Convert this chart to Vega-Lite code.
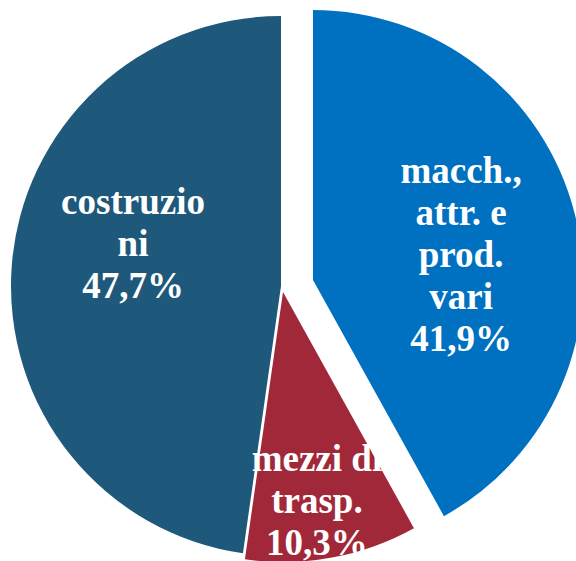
{
  "$schema": "https://vega.github.io/schema/vega-lite/v6.json",
  "width": 576,
  "height": 561,
  "padding": 0,
  "autosize": {"type": "none"},
  "config": {
    "view": {
      "stroke": null,
      "fill": {
        "gradient": "linear",
        "x1": 0, "y1": 0, "x2": 1, "y2": 1,
        "stops": [
          {"offset": 0, "color": "#C6C6C6"},
          {"offset": 0.5, "color": "#DADADA"},
          {"offset": 1, "color": "#E6E6E6"}
        ]
      }
    }
  },
  "data": {
    "values": [
      {"cat": "macch., attr. e prod. vari", "label": "macch.,\nattr. e\nprod.\nvari\n41,9%", "value": 41.9, "order": 1},
      {"cat": "mezzi di trasp.", "label": "mezzi di\ntrasp.\n10,3%", "value": 10.3, "order": 2},
      {"cat": "costruzioni", "label": "costruzio\nni\n47,7%", "value": 47.7, "order": 3}
    ]
  },
  "transform": [
    {"stack": "value", "groupby": [], "sort": [{"field": "order", "order": "ascending"}], "as": ["v0", "v1"]}
  ],
  "layer": [
    {
      "transform": [{"filter": "datum.order == 3"}],
      "mark": {"type": "arc", "radius": 270, "xOffset": -7, "yOffset": 5.5, "color": "#1E587A"},
      "encoding": {
        "theta": {"field": "v0", "type": "quantitative", "stack": null, "scale": {"domain": [0, 99.9], "range": [0, 6.283185307179586]}},
        "theta2": {"field": "v1"}
      }
    },
    {
      "transform": [{"filter": "datum.order == 1"}],
      "mark": {"type": "arc", "radius": 270, "xOffset": 25, "yOffset": -0.5, "color": "#0070C0"},
      "encoding": {
        "theta": {"field": "v0", "type": "quantitative", "stack": null},
        "theta2": {"field": "v1"}
      }
    },
    {
      "transform": [{"filter": "datum.order == 2"}],
      "mark": {"type": "arc", "radius": 270, "xOffset": -5, "yOffset": 11.5, "color": "#A12838"},
      "encoding": {
        "theta": {"field": "v0", "type": "quantitative", "stack": null},
        "theta2": {"field": "v1"}
      }
    },
    {
      "transform": [{"filter": "datum.order == 3"}],
      "mark": {"type": "text", "radius": 169.7, "thetaOffset": 1.941, "xOffset": -7, "yOffset": 5.5, "font": "Liberation Serif", "fontWeight": "bold", "fontSize": 37, "lineHeight": 42, "color": "white", "align": "center", "baseline": "middle", "lineBreak": "\n"},
      "encoding": {
        "theta": {"field": "v0", "type": "quantitative", "stack": null},
        "text": {"field": "label", "type": "nominal"}
      }
    },
    {
      "transform": [{"filter": "datum.order == 1"}],
      "mark": {"type": "text", "radius": 183.2, "thetaOffset": 0.941, "xOffset": 25, "yOffset": -0.5, "font": "Liberation Serif", "fontWeight": "bold", "fontSize": 37, "lineHeight": 42, "color": "white", "align": "center", "baseline": "middle", "lineBreak": "\n"},
      "encoding": {
        "theta": {"field": "v0", "type": "quantitative", "stack": null},
        "text": {"field": "label", "type": "nominal"}
      }
    },
    {
      "transform": [{"filter": "datum.order == 2"}],
      "mark": {"type": "text", "radius": 171.4, "thetaOffset": 0.307, "xOffset": -5, "yOffset": 11.5, "font": "Liberation Serif", "fontWeight": "bold", "fontSize": 37, "lineHeight": 42, "color": "white", "align": "center", "baseline": "middle", "lineBreak": "\n"},
      "encoding": {
        "theta": {"field": "v0", "type": "quantitative", "stack": null},
        "text": {"field": "label", "type": "nominal"}
      }
    }
  ]
}
